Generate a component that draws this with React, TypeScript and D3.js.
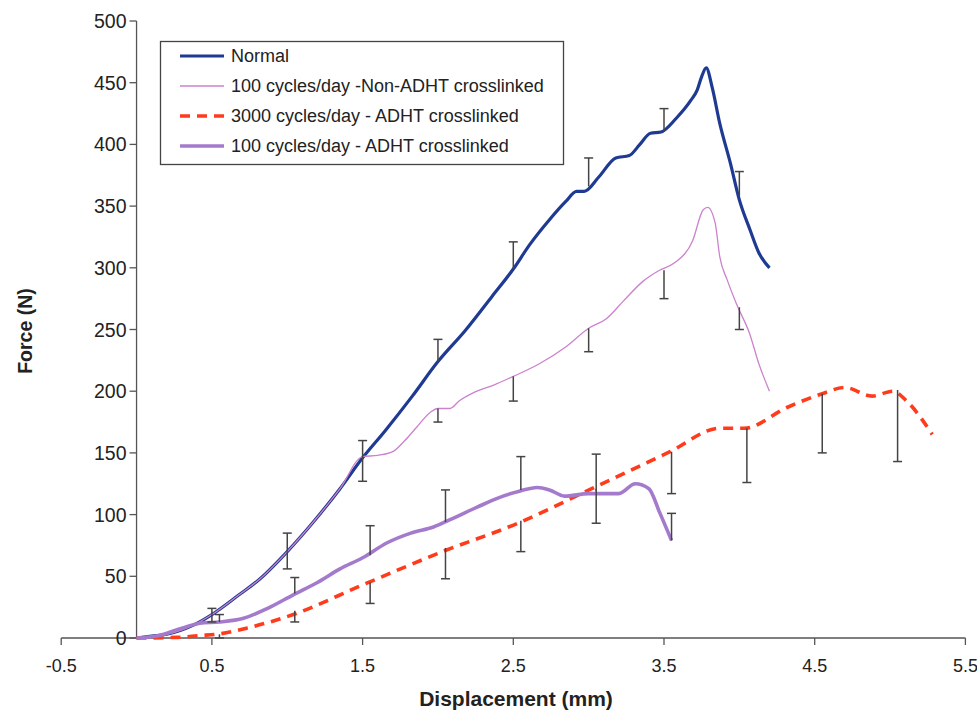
import React from "react";
import * as d3 from "d3";

// displacement (mm) / force (N)
const normalX = [0, 0.1, 0.2, 0.37, 0.5, 0.68, 0.82, 1.0, 1.18, 1.35, 1.5, 1.65, 1.83, 2.0, 2.18, 2.36, 2.5, 2.61, 2.74, 2.85, 2.92, 2.97, 3.07, 3.18, 3.27, 3.34, 3.41, 3.48, 3.58, 3.68, 3.72, 3.75, 3.78, 3.82, 3.87, 3.94, 4.0, 4.07, 4.13, 4.2];
const normalY = [0, 1.5, 3, 10, 19, 35, 48, 70, 95, 121, 146, 168, 196, 224, 249, 277, 299, 319, 339, 354, 362, 362, 374, 389, 391, 400, 409, 410, 421, 436, 444, 455, 462, 446, 417, 385, 355, 331, 312, 300];

const nonAdhtX = [0, 0.1, 0.2, 0.37, 0.5, 0.68, 0.82, 1.0, 1.18, 1.35, 1.5, 1.6, 1.7, 1.78, 1.86, 1.95, 2.0, 2.08, 2.14, 2.24, 2.37, 2.5, 2.67, 2.85, 3.0, 3.12, 3.23, 3.36, 3.47, 3.57, 3.69, 3.76, 3.79, 3.84, 3.87, 3.92, 3.98, 4.07, 4.13, 4.2];
const nonAdhtY = [0, 1.5, 3, 10, 19, 35, 48, 70, 95, 121, 147, 148, 151, 160, 171, 183, 186, 186, 192, 199, 205, 212, 222, 236, 251, 259, 273, 289, 298, 304, 322, 347, 349, 336, 309, 290, 271, 246, 222, 200];

const c3000X = [0, 0.27, 0.42, 0.53, 0.73, 1.04, 1.5, 2.03, 2.53, 3.02, 3.54, 3.87, 4.03, 4.32, 4.55, 4.7, 4.88, 5.02, 5.11, 5.28];
const c3000Y = [0, 0.5, 2, 3, 8, 19, 43, 70, 93, 121, 151, 170, 170, 187, 198, 203, 196, 200, 192, 165];

const adhtX = [0, 0.15, 0.3, 0.42, 0.55, 0.71, 0.87, 1.04, 1.2, 1.35, 1.5, 1.66, 1.82, 1.97, 2.1, 2.26, 2.41, 2.54, 2.66, 2.74, 2.84, 3.0, 3.2, 3.31, 3.4, 3.47, 3.55];
const adhtY = [0, 2, 8, 12, 13, 16, 24, 35, 45, 56, 65, 77, 85, 90, 97, 106, 114, 119, 122, 120, 115, 117, 117, 125, 121, 102, 79];

// error bars: position, mean, one-sided error
const barsNormalX = [0.5, 1.0, 1.5, 2.0, 2.5, 3.0, 3.5, 4.0];
const barsNormalY = [19, 70, 146, 224, 299, 366, 410, 358];
const barsNormalPlus = [5, 15, 14, 18, 22, 23, 19, 20];

const barsNonAdhtX = [0.5, 1.0, 1.5, 2.0, 2.5, 3.0, 3.5, 4.0];
const barsNonAdhtY = [19, 70, 146, 186, 212, 251, 298, 268];
const barsNonAdhtMinus = [6, 14, 19, 11, 20, 19, 23, 18];

const barsAdhtX = [0.55, 1.05, 1.55, 2.05, 2.55, 3.05, 3.55];
const barsAdhtY = [13, 36, 67, 94, 120, 119, 79];
const barsAdhtPlus = [6, 13, 24, 26, 27, 30, 22];

const bars3000X = [0.55, 1.05, 1.55, 2.05, 2.55, 3.05, 3.55, 4.05, 4.55, 5.05];
const bars3000Y = [3, 22, 45, 73, 95, 121, 151, 170, 198, 201];
const bars3000Minus = [3, 9, 17, 25, 25, 28, 34, 44, 48, 58];

const xTicks = [-0.5, 0.5, 1.5, 2.5, 3.5, 4.5, 5.5];
const yTicks = [0, 50, 100, 150, 200, 250, 300, 350, 400, 450, 500];

const seriesNames = [
  "Normal",
  "100 cycles/day -Non-ADHT crosslinked",
  "3000 cycles/day - ADHT crosslinked",
  "100 cycles/day - ADHT crosslinked",
];

const font = "'Liberation Sans', Arial, sans-serif";

export default function App() {
  const width = 977;
  const height = 710;

  const x = d3.scaleLinear().domain([-0.5, 5.5]).range([61.2, 965.4]);
  const y = d3.scaleLinear().domain([0, 500]).range([638, 21]);

  const line = d3
    .line<[number, number]>()
    .x((d) => x(d[0]))
    .y((d) => y(d[1]))
    .curve(d3.curveMonotoneX);

  const zip = (xs: number[], ys: number[]) => xs.map((v, i) => [v, ys[i]] as [number, number]);

  const styles = [
    { stroke: "#1f3a93", width: 3.2, dash: undefined },
    { stroke: "#cc82cc", width: 1.3, dash: undefined },
    { stroke: "#ff3b1c", width: 3.6, dash: "10,7" },
    { stroke: "#a47bcc", width: 3.6, dash: undefined },
  ];

  const lines = [
    zip(normalX, normalY),
    zip(nonAdhtX, nonAdhtY),
    zip(c3000X, c3000Y),
    zip(adhtX, adhtY),
  ];

  // one-sided bars: [x, from, to]
  const errorBars: [number, number, number][] = [
    ...barsNormalX.map((v, i) => [v, barsNormalY[i], barsNormalY[i] + barsNormalPlus[i]] as [number, number, number]),
    ...barsNonAdhtX.map((v, i) => [v, barsNonAdhtY[i], barsNonAdhtY[i] - barsNonAdhtMinus[i]] as [number, number, number]),
    ...barsAdhtX.map((v, i) => [v, barsAdhtY[i], barsAdhtY[i] + barsAdhtPlus[i]] as [number, number, number]),
    ...bars3000X.map((v, i) => [v, bars3000Y[i], bars3000Y[i] - bars3000Minus[i]] as [number, number, number]),
  ];

  const x0 = x(0);
  const y0 = y(0);

  return (
    <svg
      width={width}
      height={height}
      style={{ position: "absolute", left: 0, top: 0, background: "#fff" }}
      fontFamily={font}
    >
      <rect width={width} height={height} fill="#fff" />

      {/* axes */}
      <g stroke="#555" strokeWidth={1.3}>
        <line x1={x(-0.5)} x2={x(5.5)} y1={y0} y2={y0} />
        {xTicks.map((t) => (
          <line key={t} x1={x(t)} x2={x(t)} y1={y0} y2={y0 + 7} />
        ))}
        <line x1={x0} x2={x0} y1={y(500)} y2={y0} />
        {yTicks.map((t) => (
          <line key={t} x1={x0 - 7} x2={x0} y1={y(t)} y2={y(t)} />
        ))}
      </g>

      <g fill="#222">
        {yTicks.map((t) => (
          <text key={t} x={x0 - 10} y={y(t)} textAnchor="end" dominantBaseline="central" fontSize={19.5}>
            {t}
          </text>
        ))}
        {xTicks.map((t) => (
          <text key={t} x={x(t)} y={666} textAnchor="middle" dominantBaseline="central" fontSize={18}>
            {t}
          </text>
        ))}
      </g>

      <text x={516} y={698} textAnchor="middle" dominantBaseline="central" fontWeight="bold" fontSize={21} fill="#222">
        Displacement (mm)
      </text>
      <text
        transform={`translate(25,331) rotate(-90)`}
        textAnchor="middle"
        dominantBaseline="central"
        fontWeight="bold"
        fontSize={19.5}
        fill="#222"
      >
        Force (N)
      </text>

      {/* curves */}
      {lines.map((pts, i) => (
        <path
          key={i}
          d={line(pts) ?? ""}
          fill="none"
          stroke={styles[i].stroke}
          strokeWidth={styles[i].width}
          strokeDasharray={styles[i].dash}
          strokeLinejoin="round"
        />
      ))}

      {/* error bars */}
      <g stroke="#444" strokeWidth={1.5}>
        {errorBars.map(([bx, from, to], i) => (
          <g key={i}>
            <line x1={x(bx)} x2={x(bx)} y1={y(from)} y2={y(to)} />
            <line x1={x(bx) - 4.5} x2={x(bx) + 4.5} y1={y(to)} y2={y(to)} />
          </g>
        ))}
      </g>

      {/* legend */}
      <g>
        <rect x={160.5} y={41.5} width={403} height={123} fill="#fff" stroke="#444" strokeWidth={1.3} />
        {seriesNames.map((name, i) => {
          const ly = 56 + i * 30;
          return (
            <g key={name}>
              <line
                x1={180}
                x2={224}
                y1={ly}
                y2={ly}
                stroke={styles[i].stroke}
                strokeWidth={styles[i].width}
                strokeDasharray={styles[i].dash}
              />
              <text x={231} y={ly} dominantBaseline="central" fontSize={18} fill="#222">
                {name}
              </text>
            </g>
          );
        })}
      </g>
    </svg>
  );
}
